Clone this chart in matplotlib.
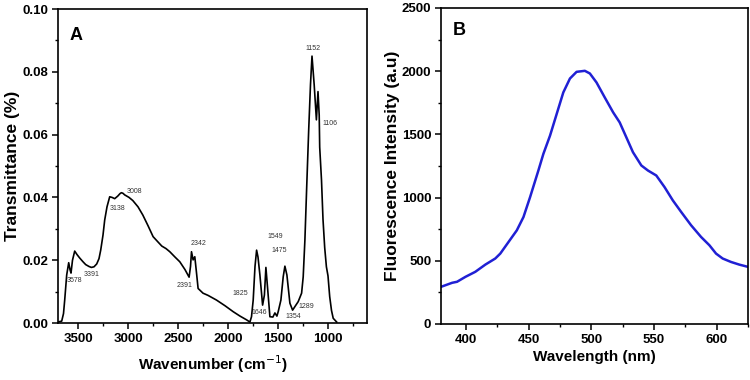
import matplotlib
matplotlib.use("Agg")
import matplotlib.pyplot as plt
from matplotlib.ticker import MultipleLocator

plt.rcParams['font.family'] = ['Liberation Sans', 'DejaVu Sans']

# ---- Panel A: FTIR spectrum ----
wavenumber = [3703, 3663, 3645, 3633, 3613, 3593, 3580, 3570, 3555, 3533, 3510, 3483, 3450,
              3423, 3390, 3366, 3340, 3313, 3290, 3273, 3250, 3233, 3210, 3183, 3160, 3133,
              3103, 3080, 3066, 3050, 3033, 2990, 2952, 2900, 2852, 2800, 2749, 2700, 2662,
              2620, 2582, 2530, 2482, 2430, 2389, 2375, 2365, 2349, 2332, 2315, 2299, 2250,
              2200, 2115, 2030, 1948, 1880, 1814, 1781, 1765, 1748, 1730, 1714, 1700, 1681,
              1654, 1636, 1621, 1601, 1581, 1551, 1531, 1511, 1498, 1471, 1448, 1431, 1411,
              1381, 1354, 1321, 1298, 1264, 1248, 1231, 1214, 1193, 1175, 1160, 1138, 1116,
              1100, 1088, 1083, 1065, 1050, 1033, 1016, 1000, 983, 965, 948, 913]
transmittance = [0.0003, 0.0006, 0.0030, 0.0073, 0.0153, 0.0192, 0.0170, 0.0159, 0.0200,
                 0.0229, 0.0218, 0.0207, 0.0195, 0.0186, 0.0180, 0.0177, 0.0179, 0.0188,
                 0.0205, 0.0232, 0.0280, 0.0328, 0.0370, 0.0402, 0.0400, 0.0396, 0.0404,
                 0.0412, 0.0415, 0.0413, 0.0408, 0.0400, 0.0390, 0.0370, 0.0344, 0.0310,
                 0.0275, 0.0258, 0.0245, 0.0237, 0.0227, 0.0210, 0.0195, 0.0170, 0.0146,
                 0.0180, 0.0227, 0.0201, 0.0211, 0.0160, 0.0110, 0.0095, 0.0088, 0.0073,
                 0.0055, 0.0036, 0.0022, 0.0010, 0.0003, 0.0020, 0.0073, 0.0180, 0.0232,
                 0.0210, 0.0153, 0.0057, 0.0089, 0.0177, 0.0099, 0.0020, 0.0019, 0.0032,
                 0.0022, 0.0036, 0.0073, 0.0147, 0.0181, 0.0153, 0.0063, 0.0041, 0.0057,
                 0.0068, 0.0095, 0.0147, 0.0264, 0.0424, 0.0615, 0.0760, 0.0850, 0.0758,
                 0.0647, 0.0737, 0.0662, 0.0560, 0.0455, 0.0330, 0.0240, 0.0179, 0.0150,
                 0.0084, 0.0040, 0.0015, 0.0003]

peak_labels = ["1152", "1106", "3008", "3138", "2342", "3578", "3391", "2391",
               "1825", "1646", "1549", "1475", "1354", "1289"]
peak_label_x = [1154, 980, 2932, 3100, 2292, 3533, 3366, 2432, 1874, 1688, 1531, 1488, 1348, 1221]
peak_label_y = [0.0873, 0.0636, 0.0418, 0.0365, 0.0252, 0.0135, 0.0153, 0.0121,
                0.0095, 0.0033, 0.0275, 0.0230, 0.0022, 0.0052]

# ---- Panel B: fluorescence spectrum ----
wavelength = [380, 388.9, 392.8, 399.5, 407.4, 415.4, 423.3, 427.3, 433.9, 440.5, 445.8,
              451.1, 457.7, 461.7, 467.0, 472.3, 477.6, 482.9, 488.2, 494.8, 498.8, 504.1,
              510.7, 517.4, 522.6, 527.9, 533.2, 539.9, 545.2, 551.8, 558.4, 565.0, 571.7,
              579.6, 587.5, 594.2, 599.5, 604.8, 611.4, 618.0, 625]
intensity = [294, 326, 334, 373, 413, 470, 518, 557, 649, 741, 846, 1004, 1214, 1346, 1490,
             1661, 1832, 1942, 1995, 2003, 1982, 1911, 1792, 1674, 1595, 1477, 1359, 1254,
             1214, 1175, 1083, 978, 886, 781, 689, 623, 557, 518, 491, 470, 452]

W, H = 750, 380
fig = plt.figure(figsize=(7.5, 3.8), dpi=100)
axA = fig.add_axes([58 / W, (H - 323) / H, 309 / W, 314 / H])
axB = fig.add_axes([441 / W, (H - 324) / H, 307 / W, 316 / H])

axA.plot(wavenumber, transmittance, color='black', lw=1.2)
for t, x, y in zip(peak_labels, peak_label_x, peak_label_y):
    axA.text(x, y, t, fontsize=5, color='#333333', ha='center', va='center')
axA.set_xlim(3700, 610)
axA.set_ylim(0, 0.10)
axA.xaxis.set_major_locator(MultipleLocator(500))
axA.xaxis.set_minor_locator(MultipleLocator(250))
axA.yaxis.set_major_locator(MultipleLocator(0.02))
axA.yaxis.set_minor_locator(MultipleLocator(0.01))
axA.yaxis.set_major_formatter(plt.FuncFormatter(lambda v, p: f"{v:.2f}"))
axA.set_xlabel("Wavenumber (cm$^{-1}$)", fontsize=11, fontweight='bold', labelpad=6)
axA.set_ylabel("Transmittance (%)", fontsize=12.5, fontweight='bold')
axA.yaxis.set_label_coords(-0.124, 0.5)
axA.text(0.06, 0.917, "A", transform=axA.transAxes, fontsize=13, fontweight='bold',
         ha='center', va='center')

axB.plot(wavelength, intensity, color='#2020d4', lw=1.8)
axB.set_xlim(380, 625)
axB.set_ylim(0, 2500)
axB.xaxis.set_major_locator(MultipleLocator(50))
axB.xaxis.set_minor_locator(MultipleLocator(25))
axB.yaxis.set_major_locator(MultipleLocator(500))
axB.yaxis.set_minor_locator(MultipleLocator(250))
axB.set_xlabel("Wavelength (nm)", fontsize=11, fontweight='bold', labelpad=3)
axB.set_ylabel("Fluorescence Intensity (a.u)", fontsize=12.5, fontweight='bold')
axB.yaxis.set_label_coords(-0.134, 0.5)
axB.text(0.059, 0.928, "B", transform=axB.transAxes, fontsize=13, fontweight='bold',
         ha='center', va='center')

for ax in (axA, axB):
    for s in ax.spines.values():
        s.set_linewidth(1.2)
    ax.tick_params(which='major', direction='out', length=4, width=1.1, pad=3,
                   labelsize=9.5)
    ax.tick_params(which='minor', direction='out', length=2.5, width=1.0)
    for lab in ax.get_xticklabels() + ax.get_yticklabels():
        lab.set_fontweight('bold')

fig.savefig("out.png", dpi=100)
